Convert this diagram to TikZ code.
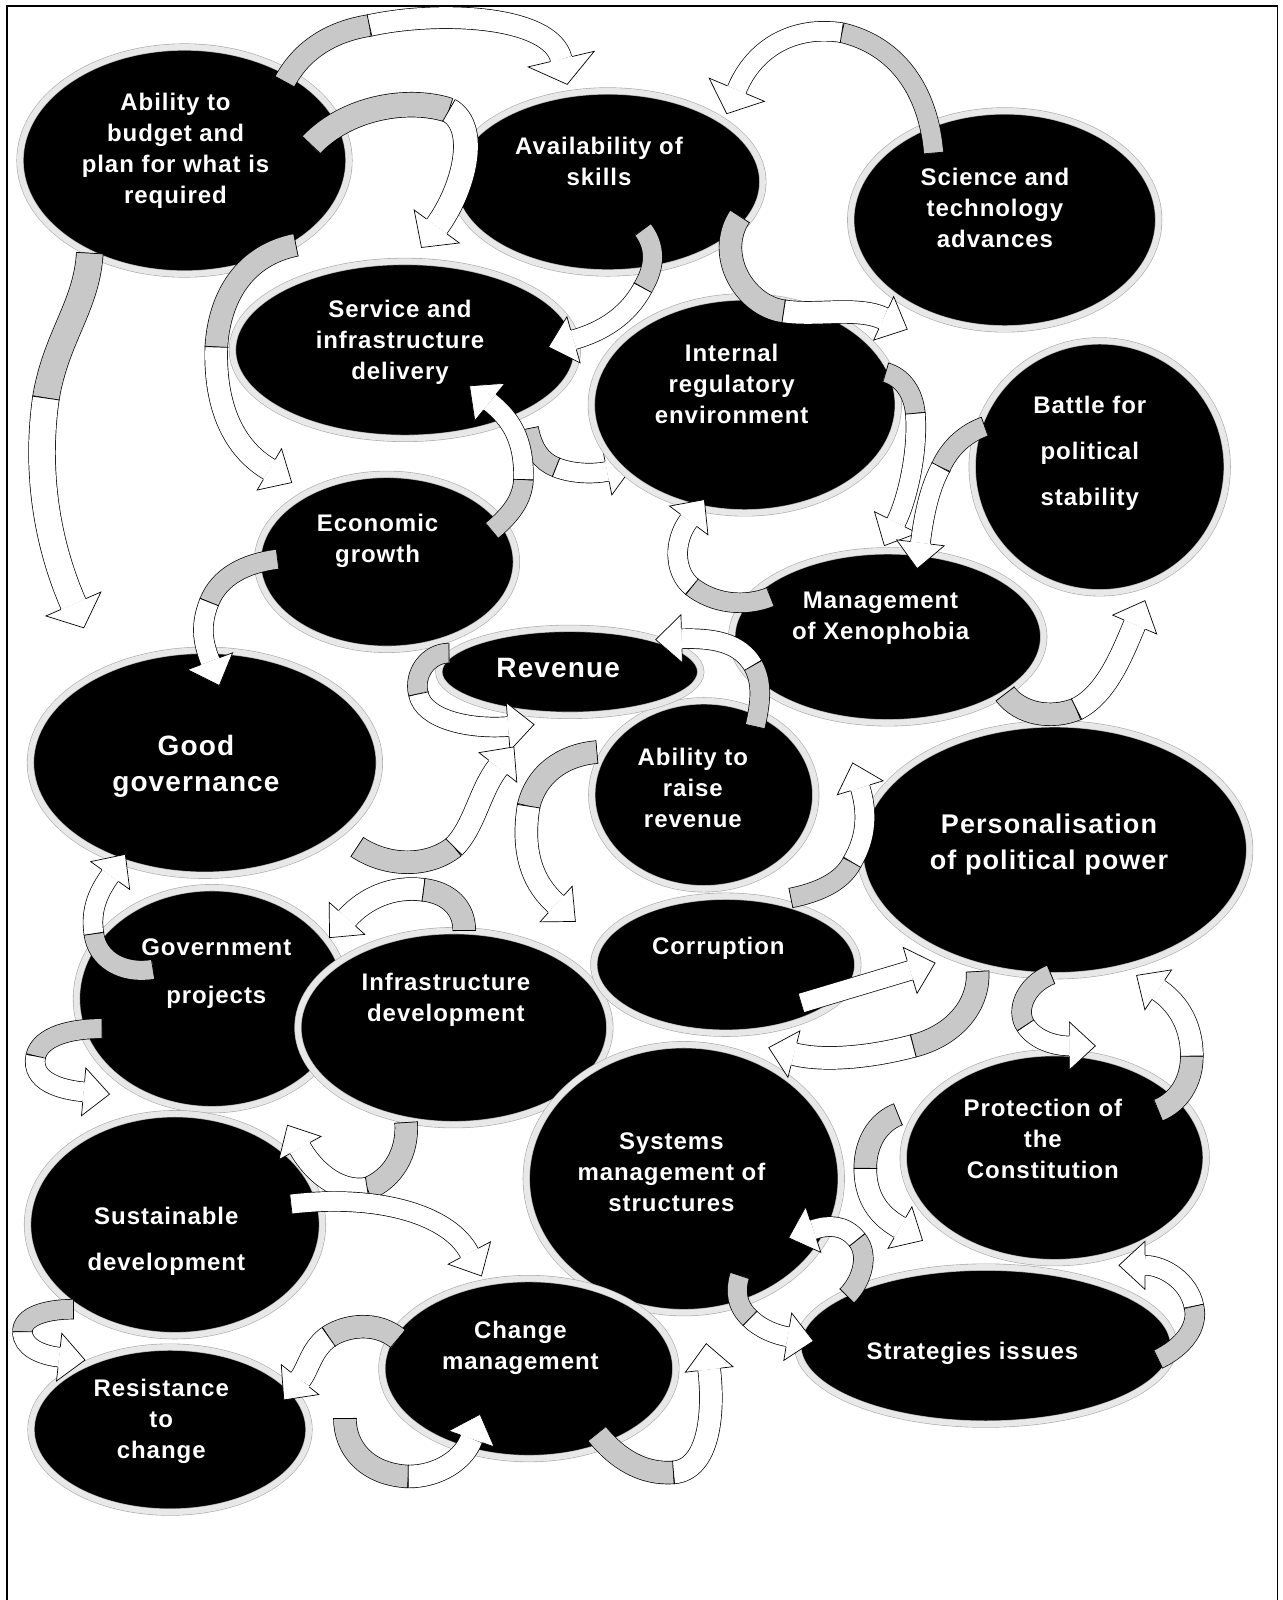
\documentclass[tikz,border=0pt]{standalone}
\usepackage{fontspec}
\setmainfont{Liberation Sans}[LetterSpace=4]
\usetikzlibrary{shapes.geometric,decorations.markings}
\definecolor{ribgray}{RGB}{200,200,200}
\definecolor{rimlight}{RGB}{232,232,232}
\definecolor{rimdark}{RGB}{170,170,170}
\def\hw{24pt}\def\hl{26pt}\def\rwid{19pt}
\tikzset{
  hw/.code={\def\hw{#1}}, hl/.code={\def\hl{#1}},
  rw/.code={\def\rwid{#1}\pgfkeysalso{double distance=#1}},
  ell/.style={ellipse, fill=black, draw=rimdark, line width=0.6pt, double=rimlight, double distance=6pt, inner sep=0pt},
  txt/.style={text=white, align=center, font=\bfseries\fontsize{24}{31}\selectfont},
  ribbase/.style={draw=black, line width=0.7pt, double distance=\rwid},
  crossx/.code={},
  ribg/.style={ribbase, double=ribgray, postaction={decorate, decoration={markings,
      mark=at position 0.0005 with {\draw[line width=0.7pt] (0pt,{-0.5*\rwid-0.7pt})--(0pt,{0.5*\rwid+0.7pt});},
      mark=at position 0.9995 with {\draw[line width=0.7pt] (0pt,{-0.5*\rwid-0.7pt})--(0pt,{0.5*\rwid+0.7pt});}}}},
  ribw/.style={ribbase, double=white, postaction={decorate, decoration={markings,
      mark=at position 0.0005 with {\draw[line width=0.7pt] (0pt,{-0.5*\rwid-0.7pt})--(0pt,{0.5*\rwid+0.7pt});},
      mark=at position 0.9995 with {\fill[white] (0pt,-\hw)--(\hl,0pt)--(0pt,\hw)--cycle;
        \draw[line width=0.7pt, line join=miter] (0pt,{-0.5*\rwid-0.7pt})--(0pt,-\hw)--(\hl,0pt)--(0pt,\hw)--(0pt,{0.5*\rwid+0.7pt});}}}},
}
\begin{document}
\begin{tikzpicture}[x=1.0207pt,y=-1.0207pt]
\useasboundingbox (0,0) rectangle (1257,1568);
\fill[white] (0,0) rectangle (1257,1568);
\draw[line width=1.6pt] (6.9,1568) -- (6.9,5.9) -- (1252,5.9) -- (1252,1568);

% arrow passing under Internal
\draw[ribg] (518,420) .. controls (522,440) and (530,452) .. (545,458);
\draw[ribw] (545,458) .. controls (560,464) and (580,465) .. (595,462);

% ellipses
\node[ell, minimum width=329pt, minimum height=227pt] (bud) at (180.8,157.3) {};
\node[ell, minimum width=310pt, minimum height=182pt] (ava) at (595.7,178.3) {};
\node[ell, minimum width=308pt, minimum height=218pt] (sci) at (984.6,215.5) {};
\node[ell, minimum width=345pt, minimum height=177pt] (ser) at (396.8,342.9) {};
\node[ell, minimum width=307pt, minimum height=216pt] (int) at (729.9,396.8) {};
\node[ell, minimum width=255pt, minimum height=252pt] (bat) at (1077.7,457.5) {};
\node[ell, minimum width=259pt, minimum height=175pt] (eco) at (379.2,550.6) {};
\node[ell, minimum width=312pt, minimum height=172pt] (xen) at (870.0,624.1) {};
\node[ell, minimum width=224pt, minimum height=188pt] (ari) at (689.7,778.9) {};
\node[ell, minimum width=262pt, minimum height=87pt] (rev) at (558.4,658.4) {};
\node[ell, minimum width=349pt, minimum height=225pt] (gg) at (200.8,747.5) {};
\node[ell, minimum width=390pt, minimum height=252pt] (per) at (1033.6,832.8) {};
\node[ell, minimum width=271pt, minimum height=222pt] (gov) at (207.7,978.7) {};
\node[ell, minimum width=312pt, minimum height=194pt] (inf) at (444.8,1007.1) {};
\node[ell, minimum width=264pt, minimum height=137pt] (cor) at (711.3,945.4) {};
\node[ell, minimum width=315pt, minimum height=268pt] (sys) at (670.1,1155.1) {};
\node[ell, minimum width=303pt, minimum height=210pt] (pro) at (1033.6,1134.5) {};
\node[ell, minimum width=295pt, minimum height=222pt] (sus) at (171.5,1200.2) {};
\node[ell, minimum width=376pt, minimum height=157pt] (str) at (966.0,1318.7) {};
\node[ell, minimum width=294pt, minimum height=180pt] (cha) at (518.3,1341.2) {};
\node[ell, minimum width=278pt, minimum height=165pt] (res) at (166.6,1401.0) {};

% texts
\node[txt] (budT) at (172,148) {Ability to\\budget and\\plan for what is\\required};
\node[txt] (avaT) at (587,158) {Availability of\\skills};
\node[txt] (sciT) at (975,204) {Science and\\technology\\advances};
\node[txt] (serT) at (392,335) {Service and\\infrastructure\\delivery};
\node[txt] (intT) at (717,376) {Internal\\regulatory\\environment};
\node[txt, font=\bfseries\fontsize{24}{46}\selectfont] (batT) at (1068,444) {Battle for\\political\\stability};
\node[txt] (ecoT) at (370,530) {Economic\\growth};
\node[txt] (xenT) at (863,606) {Management\\of Xenophobia};
\node[txt, font=\bfseries\fontsize{28}{34}\selectfont] (revT) at (547,655) {Revenue};
\node[txt, font=\bfseries\fontsize{28}{36}\selectfont] (ggT) at (192,751) {Good\\governance};
\node[txt] (ariT) at (679,772) {Ability to\\raise\\revenue};
\node[txt, font=\bfseries\fontsize{27}{36}\selectfont] (perT) at (1028,828) {Personalisation\\of political power};
\node[txt, font=\bfseries\fontsize{24}{48}\selectfont] (govT) at (212,954) {Government\\projects};
\node[txt] (infT) at (437,980) {Infrastructure\\development};
\node[txt] (corT) at (704,929) {Corruption};
\node[txt] (sysT) at (658,1149) {Systems\\management of\\structures};
\node[txt] (proT) at (1022,1116) {Protection of\\the\\Constitution};
\node[txt, font=\bfseries\fontsize{24}{46}\selectfont] (susT) at (163,1216) {Sustainable\\development};
\node[txt] (strT) at (953,1326) {Strategies issues};
\node[txt] (chaT) at (510,1321) {Change\\management};
\node[txt] (resT) at (158,1393) {Resistance\\to\\change};

% curved ribbon arrows
\draw[ribg, rw=21pt] (279,80) .. controls (298,45) and (330,30) .. (362,25);
\draw[ribw, rw=21pt, hw=34pt] (362,25) .. controls (430,10) and (540,15) .. (550,58);
\draw[ribg, rw=24pt] (305,142) .. controls (340,105) and (400,95) .. (440,108);
\draw[ribw, rw=24pt, hw=28pt] (440,108) .. controls (470,125) and (455,185) .. (428,222);
\draw[ribg] (915,150) .. controls (910,90) and (880,45) .. (825,32);
\draw[ribw, hw=30pt] (825,32) .. controls (780,25) and (740,45) .. (722,88);
\draw[ribg, rw=22pt] (725,212) .. controls (700,250) and (730,300) .. (768,305);
\draw[ribw, rw=22pt] (768,305) .. controls (800,310) and (840,300) .. (866,312);
\draw[ribg] (630,225) .. controls (645,245) and (640,265) .. (630,282);
\draw[ribw] (630,282) .. controls (615,310) and (590,325) .. (562,333);
\draw[ribg] (482,520) .. controls (500,505) and (512,490) .. (513,470);
\draw[ribw] (513,470) .. controls (514,430) and (500,410) .. (480,394);
\draw[ribg, rw=22pt] (290,240) .. controls (240,250) and (215,290) .. (212,340);
\draw[ribw, rw=22pt] (212,340) .. controls (210,400) and (230,440) .. (264,460);
\draw[ribg] (272,548) .. controls (240,552) and (215,565) .. (205,590);
\draw[ribw] (205,590) .. controls (195,615) and (200,632) .. (206,648);
\draw[ribg, rw=26pt] (88,248) .. controls (85,300) and (55,330) .. (45,390);
\draw[ribw, rw=26pt, hw=30pt] (45,390) .. controls (35,460) and (45,530) .. (72,592);
\draw[ribg] (440,640) .. controls (420,640) and (405,660) .. (410,680);
\draw[ribw] (410,680) .. controls (415,705) and (460,715) .. (498,712);
\draw[ribg, rw=22pt] (350,830) .. controls (380,850) and (420,850) .. (445,830);
\draw[ribw, rw=22pt] (445,830) .. controls (465,810) and (470,775) .. (488,752);
\draw[ribg] (740,712) .. controls (745,690) and (748,670) .. (738,652);
\draw[ribw] (738,652) .. controls (725,630) and (700,625) .. (668,626);
\draw[ribg, rw=22pt] (585,737) .. controls (550,740) and (525,760) .. (518,790);
\draw[ribw, rw=22pt] (518,790) .. controls (510,840) and (525,868) .. (545,886);
\draw[ribg] (775,880) .. controls (800,875) and (825,865) .. (835,845);
\draw[ribw] (835,845) .. controls (850,820) and (850,795) .. (843,772);
\draw[ribg] (755,585) .. controls (730,595) and (700,592) .. (678,575);
\draw[ribw] (678,575) .. controls (660,560) and (660,530) .. (675,510);
\draw[ribg] (868,365) .. controls (885,370) and (895,385) .. (897,405);
\draw[ribw] (897,405) .. controls (900,440) and (890,488) .. (878,512);
\draw[ribg] (965,418) .. controls (945,425) and (930,440) .. (922,458);
\draw[ribw] (922,458) .. controls (910,480) and (905,508) .. (902,532);
\draw[ribg, rw=22pt] (985,680) .. controls (1000,700) and (1030,705) .. (1055,695);
\draw[ribw, rw=22pt] (1055,695) .. controls (1085,680) and (1100,640) .. (1112,612);
\draw[ribg] (150,950) .. controls (120,955) and (95,940) .. (92,915);
\draw[ribw] (92,915) .. controls (88,890) and (98,872) .. (108,858);
\draw[ribg, rw=22pt] (455,912) .. controls (455,890) and (440,875) .. (415,872);
\draw[ribw, rw=22pt] (415,872) .. controls (385,868) and (358,880) .. (340,900);
\draw[ribg] (100,1008) .. controls (70,1008) and (40,1015) .. (35,1035);
\draw[ribw] (35,1035) .. controls (30,1060) and (60,1068) .. (82,1070);
\draw[ribg, rw=22pt] (398,1100) .. controls (400,1130) and (385,1155) .. (360,1165);
\draw[ribw, rw=22pt] (360,1165) .. controls (330,1170) and (305,1145) .. (294,1125);
\draw[ribw] (285,1180) .. controls (370,1170) and (440,1190) .. (460,1228);
\draw[ribg] (72,1283) .. controls (45,1283) and (22,1290) .. (22,1305);
\draw[ribw] (22,1305) .. controls (22,1320) and (40,1328) .. (58,1330);
\draw[ribg, rw=22pt] (390,1312) .. controls (370,1295) and (340,1298) .. (322,1310);
\draw[ribw, rw=22pt] (322,1310) .. controls (305,1322) and (302,1342) .. (294,1352);
\draw[ribg, rw=22pt] (338,1390) .. controls (338,1420) and (360,1445) .. (400,1447);
\draw[ribw, rw=22pt] (400,1447) .. controls (430,1447) and (455,1430) .. (462,1410);
\draw[ribg, rw=22pt] (585,1405) .. controls (605,1430) and (630,1445) .. (660,1443);
\draw[ribw, rw=22pt] (660,1443) .. controls (695,1440) and (700,1385) .. (695,1342);
\draw[ribw] (785,983) -- (892,951);
\draw[ribg, rw=22pt] (958,952) .. controls (960,985) and (935,1015) .. (895,1025);
\draw[ribw, rw=22pt] (895,1025) .. controls (850,1037) and (805,1040) .. (778,1033);
\draw[ribg] (1030,955) .. controls (1005,965) and (995,990) .. (1005,1005);
\draw[ribw] (1005,1005) .. controls (1015,1020) and (1035,1025) .. (1048,1025);
\draw[ribg, rw=22pt] (1135,1088) .. controls (1155,1080) and (1168,1060) .. (1168,1035);
\draw[ribw, rw=22pt] (1168,1035) .. controls (1168,1000) and (1150,980) .. (1135,970);
\draw[ribg, rw=22pt] (880,1092) .. controls (860,1100) and (848,1120) .. (848,1145);
\draw[ribw, rw=22pt] (848,1145) .. controls (848,1180) and (868,1195) .. (882,1203);
\draw[ribg] (725,1250) .. controls (720,1265) and (722,1280) .. (735,1292);
\draw[ribw] (735,1292) .. controls (745,1302) and (760,1308) .. (772,1310);
\draw[ribg] (830,1270) .. controls (845,1255) and (852,1230) .. (840,1215);
\draw[ribw] (840,1215) .. controls (828,1200) and (812,1200) .. (797,1205);
\draw[ribg] (1135,1332) .. controls (1160,1320) and (1175,1300) .. (1170,1280);
\draw[ribw] (1170,1280) .. controls (1165,1255) and (1140,1240) .. (1122,1240);
\end{tikzpicture}
\end{document}
